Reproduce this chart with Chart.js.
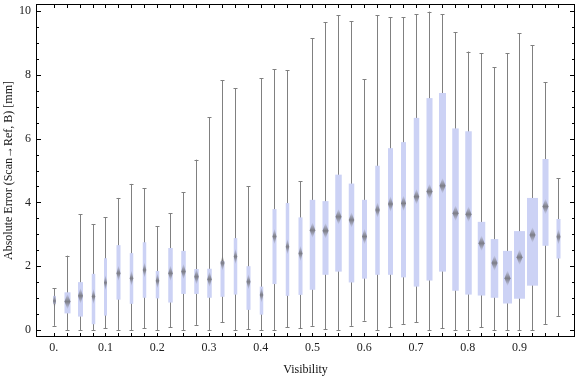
<!DOCTYPE html>
<html>
<head>
<meta charset="utf-8">
<script src="https://cdn.jsdelivr.net/npm/chart.js@4.4.1/dist/chart.umd.min.js"></script>
<style>
  html, body { margin: 0; padding: 0; background: #fff; }
  #wrap { width: 576px; height: 377px; }
</style>
</head>
<body>
<div id="wrap"><canvas id="chart"></canvas></div>
<script>
// Visibility bins (box centres)
const visibility = [
	0.000, 0.025, 0.050, 0.075, 0.100, 0.125, 0.150, 0.175, 0.200, 0.225,
	0.250, 0.275, 0.300, 0.325, 0.350, 0.375, 0.400, 0.425, 0.450, 0.475,
	0.500, 0.525, 0.550, 0.575, 0.600, 0.625, 0.650, 0.675, 0.700, 0.725,
	0.750, 0.775, 0.800, 0.825, 0.850, 0.875, 0.900, 0.925, 0.950, 0.975
];

// Box-whisker statistics, absolute error in mm
const whiskerLow = [
	0.13, 0.00, 0.00, 0.00, 0.05, 0.00, 0.00, 0.05, 0.00, 0.08,
	0.00, 0.16, 0.00, 0.24, 0.00, 0.03, 0.00, 0.00, 0.08, 0.05,
	0.13, 0.02, 0.00, 0.13, 0.29, 0.00, 0.08, 0.19, 0.24, 0.00,
	0.05, 0.00, 0.00, 0.08, 0.00, 0.00, 0.00, 0.00, 0.19, 0.44
];
const q1 = [
	0.82, 0.52, 0.42, 0.18, 0.45, 0.95, 0.82, 1.01, 0.99, 0.86,
	1.13, 1.13, 1.01, 1.04, 1.11, 0.63, 0.48, 1.44, 1.07, 1.10,
	1.26, 1.73, 1.83, 1.49, 1.61, 1.73, 1.73, 1.65, 1.36, 1.55,
	1.83, 1.23, 1.11, 1.08, 1.01, 0.83, 0.98, 1.39, 2.64, 2.24
];
const median = [
	0.91, 0.89, 1.07, 1.05, 1.48, 1.78, 1.62, 1.88, 1.54, 1.78,
	1.83, 1.67, 1.59, 2.10, 2.30, 1.51, 1.10, 2.93, 2.61, 2.40,
	3.13, 3.11, 3.55, 3.45, 2.93, 3.76, 3.95, 3.97, 4.18, 4.34,
	4.52, 3.66, 3.63, 2.72, 2.10, 1.62, 2.28, 2.98, 3.87, 2.92
];
const q3 = [
	1.07, 1.18, 1.50, 1.76, 2.25, 2.66, 2.41, 2.75, 1.85, 2.57,
	2.48, 1.91, 1.92, 2.16, 2.88, 2.00, 1.36, 3.79, 3.98, 3.53,
	4.08, 4.04, 4.87, 4.59, 4.08, 5.15, 5.70, 5.89, 6.65, 7.27,
	7.43, 6.32, 6.23, 3.39, 2.85, 2.48, 3.10, 4.14, 5.36, 3.48
];
const whiskerHigh = [
	1.31, 2.33, 3.63, 3.31, 3.53, 4.14, 4.58, 4.44, 3.25, 3.66,
	4.32, 5.34, 6.67, 7.83, 7.58, 4.51, 7.89, 8.17, 8.14, 4.66,
	9.14, 9.65, 9.87, 9.68, 7.86, 9.87, 9.80, 9.80, 9.90, 9.98,
	9.90, 9.33, 8.73, 8.67, 8.23, 8.67, 9.30, 8.92, 7.76, 4.75
];

// Box widths as drawn (px), a style table only
const boxWidths = [
	3, 6, 5, 3.5, 3, 4, 3.5, 3.5, 3.5, 4.5,
	4.5, 4.5, 4.5, 4, 3.5, 4, 3.5, 4, 3.5, 4,
	5.5, 6, 6.5, 5.5, 5, 4.5, 5, 5, 5.5, 6,
	7, 6.5, 6.5, 7.5, 7.5, 9, 11, 11, 6, 4
];

const xTickValues = [0, 0.1, 0.2, 0.3, 0.4, 0.5, 0.6, 0.7, 0.8, 0.9];
const xTickLabels = ['0.', '0.1', '0.2', '0.3', '0.4', '0.5', '0.6', '0.7', '0.8', '0.9'];
const yTickValues = [0, 2, 4, 6, 8, 10];

const serif = "'Liberation Serif', 'DejaVu Serif', serif";

// Draws whiskers, boxes and median diamonds from the scales
const boxWhiskerPlugin = {
	id: 'boxWhisker',
	beforeDatasetsDraw(chart) {
		const ctx = chart.ctx;
		const xs = chart.scales.x;
		const ys = chart.scales.y;
		ctx.save();
		visibility.forEach((v, i) => {
			const px = Math.round(xs.getPixelForValue(v)) + 0.5;
			const yLo = ys.getPixelForValue(whiskerLow[i]);
			const yHi = ys.getPixelForValue(whiskerHigh[i]);
			const yQ1 = ys.getPixelForValue(q1[i]);
			const yQ3 = ys.getPixelForValue(q3[i]);
			const yMed = ys.getPixelForValue(median[i]);
			const w = boxWidths[i];

			// whisker
			ctx.strokeStyle = '#808080';
			ctx.lineWidth = 1;
			ctx.beginPath();
			ctx.moveTo(px, yHi);
			ctx.lineTo(px, yLo);
			ctx.moveTo(px - 2, Math.round(yHi) + 0.5);
			ctx.lineTo(px + 2, Math.round(yHi) + 0.5);
			ctx.moveTo(px - 2, Math.round(yLo) + 0.5);
			ctx.lineTo(px + 2, Math.round(yLo) + 0.5);
			ctx.stroke();

			// box
			ctx.fillStyle = '#ccd2f5';
			ctx.fillRect(px - w / 2, yQ3, w, yQ1 - yQ3);

			// median diamond, soft edged
			const hw = Math.min(w / 2, 3);
			const hh = 8;
			const grad = ctx.createLinearGradient(0, yMed - hh, 0, yMed + hh);
			grad.addColorStop(0, 'rgba(110,110,115,0)');
			grad.addColorStop(0.5, 'rgba(110,110,115,0.85)');
			grad.addColorStop(1, 'rgba(110,110,115,0)');
			ctx.fillStyle = grad;
			ctx.beginPath();
			ctx.moveTo(px, yMed - hh);
			ctx.lineTo(px + hw, yMed);
			ctx.lineTo(px, yMed + hh);
			ctx.lineTo(px - hw, yMed);
			ctx.closePath();
			ctx.fill();
		});
		ctx.restore();
	}
};

// Frame with inward tick marks
const framePlugin = {
	id: 'frame',
	afterDraw(chart) {
		const ctx = chart.ctx;
		const a = chart.chartArea;
		const xs = chart.scales.x;
		const ys = chart.scales.y;
		ctx.save();
		ctx.strokeStyle = '#000';
		ctx.lineWidth = 1;
		ctx.strokeRect(a.left + 0.5, a.top + 0.5, a.right - a.left - 1, a.bottom - a.top - 1);
		ctx.beginPath();
		visibility.forEach((v) => {
			const px = Math.round(xs.getPixelForValue(v)) + 0.5;
			ctx.moveTo(px, a.bottom);
			ctx.lineTo(px, a.bottom - 4);
			ctx.moveTo(px, a.top);
			ctx.lineTo(px, a.top + 4);
		});
		for (let k = 0; k <= 20; k++) {
			const val = k / 2;
			const py = Math.round(ys.getPixelForValue(val)) + 0.5;
			const len = k % 4 === 0 ? 5 : 3;
			ctx.moveTo(a.left, py);
			ctx.lineTo(a.left + len, py);
			ctx.moveTo(a.right, py);
			ctx.lineTo(a.right - len, py);
		}
		ctx.stroke();
		ctx.restore();
	}
};

const canvas = document.getElementById('chart');

const graph = new Chart(canvas, {
	type: 'scatter',
	data: {
		datasets: [{
			label: 'Median',
			data: visibility.map((v, i) => ({ x: v, y: median[i] })),
			pointRadius: 0,
			pointHoverRadius: 0
		}]
	},
	options: {
		responsive: true,
		maintainAspectRatio: false,
		animation: false,
		layout: { padding: { top: 4, right: 1, left: 0, bottom: 0 } },
		plugins: {
			legend: { display: false },
			tooltip: { enabled: false }
		},
		scales: {
			x: {
				type: 'linear',
				min: -0.0342,
				max: 1.0073,
				border: { display: false },
				grid: { display: false, drawTicks: false },
				afterBuildTicks: (scale) => {
					scale.ticks = xTickValues.map((v) => ({ value: v }));
				},
				afterFit: (scale) => {
					scale.height = 40;
					scale.paddingLeft = 0;
					scale.paddingRight = 0;
				},
				ticks: {
					padding: 4,
					maxRotation: 0,
					autoSkip: false,
					color: '#222',
					font: { family: serif, size: 12 },
					callback: (value, index) => xTickLabels[index]
				},
				title: {
					display: true,
					text: 'Visibility',
					color: '#111',
					font: { family: serif, size: 12 },
					padding: { top: 2, bottom: 0 }
				}
			},
			y: {
				type: 'linear',
				min: -0.22,
				max: 10.22,
				border: { display: false },
				grid: { display: false, drawTicks: false },
				afterBuildTicks: (scale) => {
					scale.ticks = yTickValues.map((v) => ({ value: v }));
				},
				afterFit: (scale) => {
					scale.width = 36;
					scale.paddingTop = 0;
					scale.paddingBottom = 0;
				},
				ticks: {
					padding: 5,
					color: '#222',
					font: { family: serif, size: 12 }
				},
				title: {
					display: true,
					text: 'Absolute Error (Scan\u2192Ref, B) [mm]',
					color: '#111',
					font: { family: serif, size: 12 },
					padding: { top: 2, bottom: 0 }
				}
			}
		}
	},
	plugins: [boxWhiskerPlugin, framePlugin]
});
</script>
</body>
</html>
